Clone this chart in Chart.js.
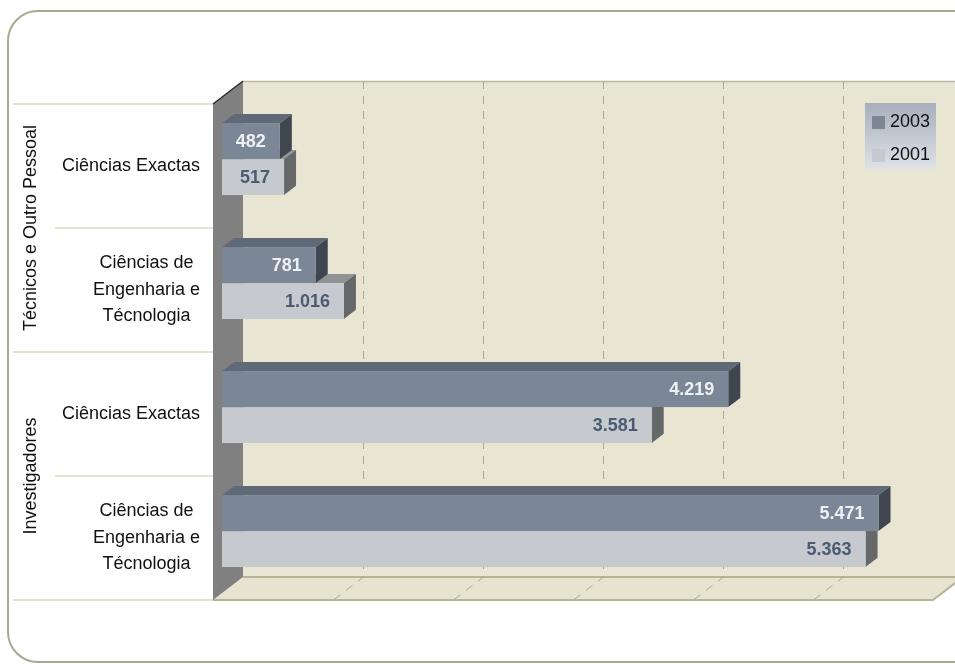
<!DOCTYPE html>
<html><head><meta charset="utf-8">
<script src="https://cdn.jsdelivr.net/npm/chart.js@4.4.1/dist/chart.umd.min.js"></script>
<style>html,body{margin:0;padding:0;background:#fff}</style>
</head><body>
<canvas id="c" width="955" height="664"></canvas>
<script>
// ===== data =====
const groups=["Técnicos e Outro Pessoal","Investigadores"];
const groupSize=[2,2];
const categories=[["Ciências Exactas"],["Ciências de","Engenharia e","Técnologia"],["Ciências Exactas"],["Ciências de","Engenharia e","Técnologia"]];
const seriesNames=["2003","2001"];
const v2003=[482,781,4219,5471];
const v2001=[517,1016,3581,5363];
const xMax=6000, xStep=1000;

// ===== look =====
const FONT='"Liberation Sans", Arial, sans-serif';
const D=30, H=23;            // depth of the 3d box
const F0=0.3, F1=0.7;        // bars sit in this slice of the depth
const WALL="#e8e6d3", SIDEWALL="#808080", EDGE="#b5b596", GRID="#a9a894", SEP="#dcdcbc";
const faces=[
  {front:"#7b8797",top:"#5f6978",side:"#3f4650",label:"#eef0f3"},
  {front:"#c6c9cd",top:"#909396",side:"#666768",label:"#4b5b72"}
];
const fmt=(v)=>String(v).replace(/\B(?=(\d{3})+(?!\d))/g,".");

function poly(ctx,pts,fill){
  ctx.beginPath(); ctx.moveTo(pts[0][0],pts[0][1]);
  for(let i=1;i<pts.length;i++) ctx.lineTo(pts[i][0],pts[i][1]);
  ctx.closePath(); ctx.fillStyle=fill; ctx.fill();
}

const box3d={
  id:"box3d",
  beforeDraw(chart){
    const ctx=chart.ctx, a=chart.chartArea, xs=chart.scales.x;
    ctx.save();
    // frame
    ctx.beginPath(); ctx.roundRect(8,11,977,651,30);
    ctx.strokeStyle="#a9a98e"; ctx.lineWidth=2; ctx.stroke();

    // back wall
    ctx.fillStyle=WALL; ctx.fillRect(a.left+D,a.top-H,a.right-a.left,a.bottom-a.top);
    ctx.strokeStyle="#b9b8a4"; ctx.lineWidth=1.5;
    ctx.beginPath(); ctx.moveTo(a.left+D,a.top-H+0.5); ctx.lineTo(a.right+D,a.top-H+0.5); ctx.stroke();
    // floor
    poly(ctx,[[a.left,a.bottom],[a.left+D,a.bottom-H],[a.right+D,a.bottom-H],[a.right,a.bottom]],"#e6e4d0");
    ctx.strokeStyle=EDGE; ctx.lineWidth=2;
    ctx.beginPath(); ctx.moveTo(a.left+D,a.bottom-H); ctx.lineTo(a.right+D,a.bottom-H);
    ctx.moveTo(a.left,a.bottom); ctx.lineTo(a.right,a.bottom); ctx.lineTo(a.right+D,a.bottom-H); ctx.stroke();

    // grid
    ctx.strokeStyle=GRID; ctx.lineWidth=1; ctx.setLineDash([8,7]);
    for(let v=xStep; v<xMax; v+=xStep){
      const px=Math.round(xs.getPixelForValue(v))+0.5;
      ctx.beginPath(); ctx.moveTo(px+D,a.top-H); ctx.lineTo(px+D,a.bottom-H);
      ctx.lineTo(px,a.bottom); ctx.stroke();
    }
    ctx.setLineDash([]);

    // left wall
    poly(ctx,[[a.left,a.top],[a.left+D,a.top-H],[a.left+D,a.bottom-H],[a.left,a.bottom]],SIDEWALL);
    ctx.strokeStyle="#222"; ctx.lineWidth=1.2;
    ctx.beginPath(); ctx.moveTo(a.left,a.top); ctx.lineTo(a.left+D,a.top-H); ctx.stroke();

    // category axis: separators + labels
    const band=(a.bottom-a.top)/categories.length;
    ctx.strokeStyle=SEP; ctx.lineWidth=1.5;
    let k=0;
    ctx.beginPath(); ctx.moveTo(13,a.top); ctx.lineTo(a.left,a.top);
    groupSize.forEach((n,g)=>{
      for(let j=1;j<n;j++){const y=a.top+(k+j)*band; ctx.moveTo(55,y); ctx.lineTo(a.left,y);}
      k+=n; const y=a.top+k*band; ctx.moveTo(13,y); ctx.lineTo(a.left,y);
    });
    ctx.stroke();

    ctx.fillStyle="#111"; ctx.font="18px "+FONT; ctx.textBaseline="middle";
    k=0;
    groupSize.forEach((n,g)=>{
      const yc=a.top+(k+n/2)*band;
      ctx.save(); ctx.translate(31,yc); ctx.rotate(-Math.PI/2);
      ctx.textAlign="center"; ctx.fillText(groups[g],0,0); ctx.restore();
      k+=n;
    });
    ctx.textAlign="center";
    const lh=26.5;
    categories.forEach((lines,i)=>{
      const yc=a.top+(i+0.5)*band;
      const w=Math.max(...lines.map(t=>ctx.measureText(t).width));
      const cx=a.left-13-w/2;
      lines.forEach((t,j)=>ctx.fillText(t,cx,yc+(j-(lines.length-1)/2)*lh));
    });
    ctx.restore();
  },
  beforeDatasetDraw(){ return false; },
  afterDatasetsDraw(chart){
    const ctx=chart.ctx, a=chart.chartArea;
    const fx=D*F0, fy=-H*F0, bx=D*F1, by=-H*F1;
    ctx.save();
    for(let i=0;i<categories.length;i++){
      for(let d=chart.data.datasets.length-1; d>=0; d--){
        const el=chart.getDatasetMeta(d).data[i], c=faces[d];
        const x0=el.base, x1=el.x, y0=el.y-el.height/2, y1=el.y+el.height/2;
        poly(ctx,[[x0+fx,y0+fy],[x0+bx,y0+by],[x1+bx,y0+by],[x1+fx,y0+fy]],c.top);
        poly(ctx,[[x1+fx,y0+fy],[x1+bx,y0+by],[x1+bx,y1+by],[x1+fx,y1+fy]],c.side);
        ctx.fillStyle=c.front; ctx.fillRect(x0+fx,y0+fy,x1-x0,y1-y0);
      }
      for(let d=0; d<chart.data.datasets.length; d++){
        const el=chart.getDatasetMeta(d).data[i];
        ctx.fillStyle=faces[d].label; ctx.font="bold 18px "+FONT;
        ctx.textAlign="right"; ctx.textBaseline="middle";
        ctx.fillText(fmt(chart.data.datasets[d].data[i]),el.x+fx-14,el.y+fy+1);
      }
    }
    // legend
    const lx=a.right-68, ly=a.top-1, lw=71, lhh=66;
    const g=ctx.createLinearGradient(0,ly,0,ly+lhh);
    g.addColorStop(0,"#a6afbc"); g.addColorStop(1,"#dfe2e7");
    ctx.fillStyle=g; ctx.fillRect(lx,ly,lw,lhh);
    ctx.font="18px "+FONT; ctx.textAlign="left"; ctx.textBaseline="middle";
    seriesNames.forEach((s,j)=>{
      const yy=ly+19+j*33;
      ctx.fillStyle=faces[j].front; ctx.fillRect(lx+7,yy-6,13,13);
      ctx.fillStyle="#111"; ctx.fillText(s,lx+25,yy);
    });
    ctx.restore();
  }
};

new Chart(document.getElementById("c"),{
  type:"bar",
  data:{
    labels:categories.map(c=>c.join(" ")),
    datasets:[
      {label:seriesNames[0],data:v2003,backgroundColor:faces[0].front},
      {label:seriesNames[1],data:v2001,backgroundColor:faces[1].front}
    ]
  },
  options:{
    indexAxis:"y",responsive:false,devicePixelRatio:1,animation:false,
    layout:{padding:{left:213,right:22,top:104,bottom:64}},
    datasets:{bar:{categoryPercentage:0.58,barPercentage:1}},
    plugins:{legend:{display:false},tooltip:{enabled:false}},
    scales:{
      x:{display:false,min:0,max:xMax,ticks:{stepSize:xStep}},
      y:{display:false}
    }
  },
  plugins:[box3d]
});
</script>
</body></html>
